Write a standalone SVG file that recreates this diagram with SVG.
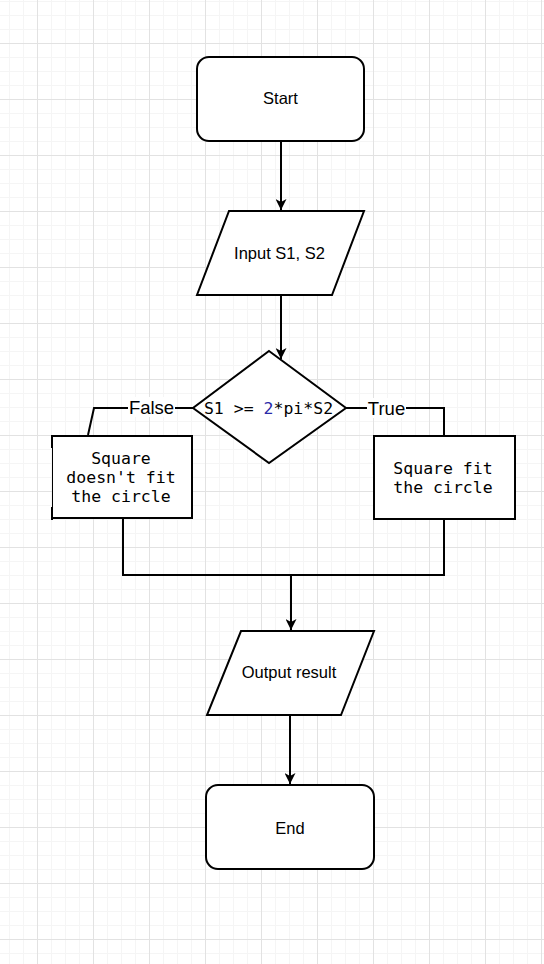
<svg xmlns="http://www.w3.org/2000/svg" width="544" height="964" viewBox="0 0 544 964">
<defs>
<style>
.shape{fill:#ffffff;stroke:#000000;stroke-width:2}
.conn{fill:none;stroke:#000000;stroke-width:2}
.sans{font-family:"Liberation Sans",Arial,Helvetica,sans-serif;font-size:16.5px;fill:#000000;text-anchor:middle}
.mono{font-family:"DejaVu Sans Mono","Liberation Mono",monospace;font-size:16.5px;fill:#000000;text-anchor:middle}
.lbl{font-family:"Liberation Sans",Arial,Helvetica,sans-serif;font-size:18.5px;fill:#000000;text-anchor:middle}
</style>
<pattern id="grid" patternUnits="userSpaceOnUse" x="37" y="43" width="56" height="56">
<path d="M14.5 0V56M28.5 0V56M42.5 0V56M0 14.5H56M0 28.5H56M0 42.5H56" stroke="#f5f5f5" stroke-width="1" fill="none"/>
<path d="M0.5 0V56M0 0.5H56" stroke="#e2e2e2" stroke-width="1" fill="none"/>
</pattern>
<marker id="arr" markerWidth="12" markerHeight="11" refX="11" refY="5.5" orient="auto" markerUnits="userSpaceOnUse">
<path d="M0,0 L11,5.5 L0,11 L3,5.5 Z" fill="#000000"/>
</marker>
</defs>
<rect x="0" y="0" width="544" height="964" fill="#ffffff"/>
<rect x="0" y="0" width="544" height="964" fill="url(#grid)"/>

<g id="connectors">
<path class="conn" d="M281 141V210" marker-end="url(#arr)"/>
<path class="conn" d="M281 295V359" marker-end="url(#arr)"/>
<path class="conn" d="M193 408H94L88 435"/>
<path class="conn" d="M346 408H444V435"/>
<path class="conn" d="M123 519V575H444V519"/>
<path class="conn" d="M291 575V630" marker-end="url(#arr)"/>
<path class="conn" d="M290 715V784" marker-end="url(#arr)"/>
<g id="label-false">
<rect x="128" y="397" width="47" height="20" fill="#ffffff"/>
<text class="lbl" x="151.5" y="414">False</text>
</g>
<g id="label-true">
<rect x="367" y="398" width="39" height="20" fill="#ffffff"/>
<text class="lbl" x="386.5" y="415">True</text>
</g>
</g>

<g id="start">
<rect class="shape" x="197" y="57" width="167" height="84" rx="12" ry="12"/>
<text class="sans" x="280.5" y="104">Start</text>
</g>

<g id="input">
<polygon class="shape" points="229,211 364,211 332,295 197,295"/>
<text class="sans" x="279.5" y="259">Input S1, S2</text>
</g>

<g id="decision">
<polygon class="shape" points="269,351 346,408 269,463 193,408"/>
<text class="mono" x="268.5" y="414">S1 &gt;= <tspan fill="#2a2aa8">2</tspan>*pi*S2</text>
</g>

<g id="false-box">
<rect x="52" y="435" width="140" height="84" fill="#ffffff"/>
<path class="conn" d="M52 436H192V518H52"/>
<path d="M52 435V448M52 507V520" stroke="#000000" stroke-width="2" fill="none"/>
<path d="M52.5 448V507" stroke="#000000" stroke-width="1" fill="none"/>
<text class="mono" x="121" y="464">Square</text>
<text class="mono" x="121" y="483">doesn't fit</text>
<text class="mono" x="121" y="502">the circle</text>
</g>

<g id="true-box">
<rect class="shape" x="374" y="436" width="141" height="83"/>
<text class="mono" x="443" y="474">Square fit</text>
<text class="mono" x="443" y="493">the circle</text>
</g>

<g id="output">
<polygon class="shape" points="241,631 374,631 341,715 207,715"/>
<text class="sans" x="289" y="678">Output result</text>
</g>

<g id="end">
<rect class="shape" x="206" y="785" width="168" height="84" rx="12" ry="12"/>
<text class="sans" x="290" y="834">End</text>
</g>
</svg>
